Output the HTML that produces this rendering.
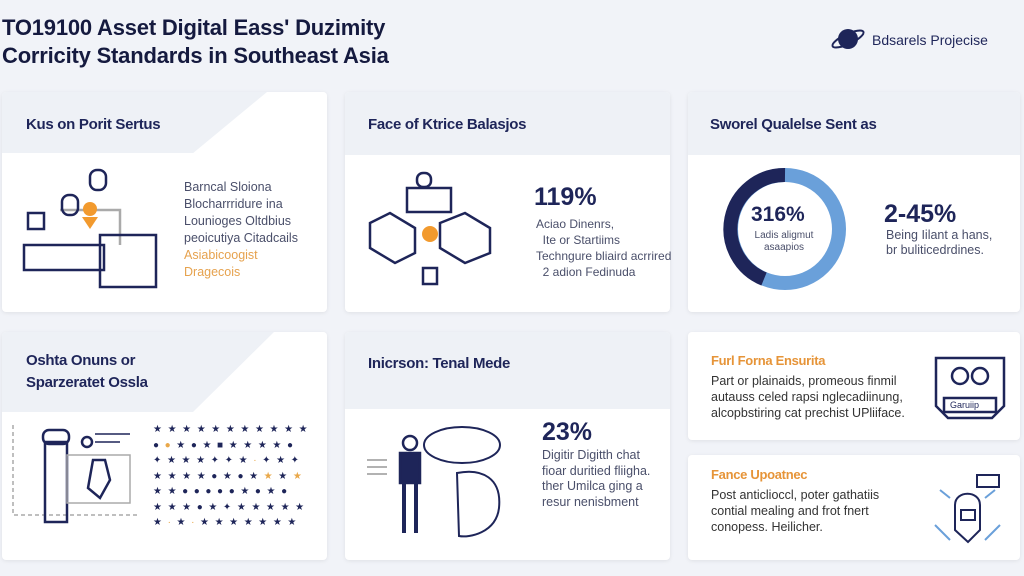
<!DOCTYPE html><html><head><style>
body{margin:0;width:1024px;height:576px;background:#f1f3f8;font-family:"Liberation Sans",sans-serif;position:relative;overflow:hidden;color:#1e2559}
.c{position:absolute;background:#fff;border-radius:4px;box-shadow:0 1px 4px rgba(0,0,0,.08);overflow:hidden}
.hb{position:absolute;left:0;top:0;right:0;background:#eef1f6}
h2{position:absolute;margin:0;font-size:15px;font-weight:bold;color:#1e2559;letter-spacing:-.3px}
.t{position:absolute;font-size:12.5px;color:#4a4f6a;line-height:17px}
.big{position:absolute;font-size:25px;font-weight:bold;color:#1e2559}
.stars{position:absolute;left:153px;top:422px;width:165px;font-size:10px;line-height:15.5px;letter-spacing:5.6px;color:#1e2559}
</style></head><body>
<div style="position:absolute;left:2px;top:14px;font-size:22px;font-weight:bold;line-height:28px;color:#151a3f;letter-spacing:-.2px">TO19100 Asset Digital Eass' Duzimity<br>Corricity Standards in Southeast Asia</div>
<svg style="position:absolute;left:830px;top:24px" width="36" height="30"><circle cx="18" cy="15" r="10" fill="#1e2559"/><ellipse cx="18" cy="15" rx="17" ry="5" fill="none" stroke="#1e2559" stroke-width="2" transform="rotate(-25 18 15)"/></svg>
<div style="position:absolute;left:872px;top:32px;font-size:14px;color:#1e2559">Bdsarels Projecise</div>

<div class="c" style="left:2px;top:92px;width:325px;height:220px"><div class="hb" style="height:61px"></div><svg style="position:absolute;left:0;top:0" width="325" height="62"><polygon points="265,0 325,0 325,62 190,62" fill="#fff"/></svg></div>
<h2 style="left:26px;top:116px">Kus on Porit Sertus</h2>
<svg style="position:absolute;left:20px;top:165px" width="140" height="125" fill="none" stroke="#1e2559" stroke-width="2.5"><path d="M40 45h60v35" stroke="#aaa"/><rect x="70" y="5" width="16" height="20" rx="7"/><rect x="42" y="30" width="16" height="20" rx="7"/><circle cx="70" cy="44" r="7" fill="#f29a2e" stroke="none"/><path d="M62 52h16l-8 12z" fill="#f29a2e" stroke="none"/><rect x="4" y="80" width="80" height="25"/><rect x="80" y="70" width="56" height="52"/><rect x="8" y="48" width="16" height="16"/></svg>
<div class="t" style="left:184px;top:179px">Barncal Sloiona<br>Blocharrridure ina<br>Lounioges Oltdbius<br>peoicutiya Citadcails<br><span style="color:#e6a24e">Asiabicoogist<br>Dragecois</span></div>

<div class="c" style="left:345px;top:92px;width:325px;height:220px"><div class="hb" style="height:63px"></div></div>
<h2 style="left:368px;top:116px">Face of Ktrice Balasjos</h2>
<svg style="position:absolute;left:365px;top:168px" width="140" height="120" fill="none" stroke="#1e2559" stroke-width="2.5"><rect x="42" y="20" width="44" height="24"/><rect x="52" y="5" width="14" height="14" rx="6"/><path d="M5 55l20-10 25 15v25l-20 10-25-15z"/><path d="M75 55l25-10 25 15v25l-25 10-25-15z"/><circle cx="65" cy="66" r="8" fill="#f29a2e" stroke="none"/><rect x="58" y="100" width="14" height="16"/></svg>
<div class="big" style="left:534px;top:183px">119%</div>
<div class="t" style="left:536px;top:216px;line-height:16px;font-size:12px">Aciao Dinenrs,<br>&nbsp;&nbsp;Ite or Startiims<br>Techngure bliaird acrrired<br>&nbsp;&nbsp;2 adion Fedinuda</div>

<div class="c" style="left:688px;top:92px;width:332px;height:220px"><div class="hb" style="height:63px"></div></div>
<h2 style="left:710px;top:116px">Sworel Qualelse Sent as</h2>
<svg style="position:absolute;left:722px;top:166px" width="126" height="126"><circle cx="63" cy="63" r="54" fill="none" stroke="#6aa0da" stroke-width="14"/><path d="M63 9A54 54 0 0 0 42 113" fill="none" stroke="#1e2559" stroke-width="14"/></svg>
<div class="big" style="left:751px;top:203px;font-size:21px">316%</div>
<div class="t" style="left:752px;top:230px;font-size:10px;line-height:12px;text-align:center;width:64px">Ladis aligmut<br>asaapios</div>
<div class="big" style="left:884px;top:200px">2-45%</div>
<div class="t" style="left:886px;top:228px;line-height:15px">Being Iilant a hans,<br>br buliticedrdines.</div>

<div class="c" style="left:2px;top:332px;width:325px;height:228px"><div class="hb" style="height:80px"></div><svg style="position:absolute;left:0;top:0" width="325" height="81"><polygon points="272,0 325,0 325,81 190,81" fill="#fff"/></svg></div>
<h2 style="left:26px;top:350px;line-height:22px">Oshta Onuns or<br>Sparzeratet Ossla</h2>
<svg style="position:absolute;left:5px;top:420px" width="140" height="120" fill="none" stroke="#1e2559" stroke-width="2.5"><path d="M8 5v90h125" stroke="#aaa" stroke-dasharray="4 3" stroke-width="1.5"/><rect x="40" y="22" width="22" height="80"/><rect x="38" y="10" width="26" height="14" rx="6"/><rect x="62" y="35" width="63" height="48" stroke="#aaa" stroke-width="1.5"/><path d="M88 40h12l5 20-10 18-12-10z"/><circle cx="82" cy="22" r="5"/><path d="M90 22h25M90 14h35" stroke-width="1.5"/></svg>
<div class="stars">★★★★★★★★★★★<br>●<span style="color:#e9a84a">●</span>★●★■★★★★●<br>✦★★★✦✦★<span style="color:#e9a84a">·</span>✦★✦<br>★★★★●★●★<span style="color:#e9a84a">★</span>★<span style="color:#e9a84a">★</span><br>★★●●●●●★●★●<br>★★★●★✦★★★★★<br>★<span style="color:#e9a84a">·</span>★<span style="color:#e9a84a">·</span>★★★★★★★</div>

<div class="c" style="left:345px;top:332px;width:325px;height:228px"><div class="hb" style="height:77px"></div></div>
<h2 style="left:368px;top:355px">Inicrson: Tenal Mede</h2>
<svg style="position:absolute;left:362px;top:425px" width="150" height="115" fill="none" stroke="#1e2559" stroke-width="2.5"><circle cx="48" cy="18" r="7"/><rect x="38" y="28" width="20" height="30" fill="#1e2559"/><path d="M42 58v50M54 58v50" stroke-width="4"/><ellipse cx="100" cy="20" rx="38" ry="18" stroke-width="2"/><path d="M95 48c25-5 45 5 42 35-3 25-30 30-40 28z" stroke-width="2"/><path d="M5 35h20M5 42h20M5 49h20" stroke="#999" stroke-width="1.5"/></svg>
<div class="big" style="left:542px;top:418px">23%</div>
<div class="t" style="left:542px;top:448px;line-height:15.5px">Digitir Digitth chat<br>fioar duritied fliigha.<br>ther Umilca ging a<br>resur nenisbment</div>

<div class="c" style="left:688px;top:332px;width:332px;height:108px"></div>
<h2 style="left:711px;top:353px;color:#e69438;font-size:13px">Furl Forna Ensurita</h2>
<div class="t" style="left:711px;top:373px;line-height:16px;color:#333">Part or plainaids, promeous finmil<br>autauss celed rapsi nglecadiinung,<br>alcopbstiring cat prechist UPliiface.</div>
<svg style="position:absolute;left:930px;top:346px" width="80" height="80" fill="none" stroke="#1e2559" stroke-width="2.5"><path d="M6 12h68v48l-12 12H18L6 60z"/><circle cx="30" cy="30" r="8"/><circle cx="50" cy="30" r="8"/><rect x="14" y="52" width="52" height="14"/></svg>
<div style="position:absolute;left:950px;top:400px;font-size:9px;color:#1e2559">Garuiip</div>

<div class="c" style="left:688px;top:455px;width:332px;height:105px"></div>
<h2 style="left:711px;top:467px;color:#e69438;font-size:13px">Fance Upoatnec</h2>
<div class="t" style="left:711px;top:487px;line-height:16px;color:#333">Post anticlioccl, poter gathatiis<br>contial mealing and frot fnert<br>conopess. Heilicher.</div>
<svg style="position:absolute;left:925px;top:465px" width="85" height="85" fill="none" stroke="#1e2559" stroke-width="2"><path d="M30 40c0-15 25-15 25 0v25l-12 12-13-12z"/><rect x="36" y="45" width="14" height="10"/><path d="M10 60l15 15M75 60l-15 15M15 25l10 8M70 25l-10 8" stroke="#6aa0da"/><rect x="52" y="10" width="22" height="12"/></svg>
</body></html>
